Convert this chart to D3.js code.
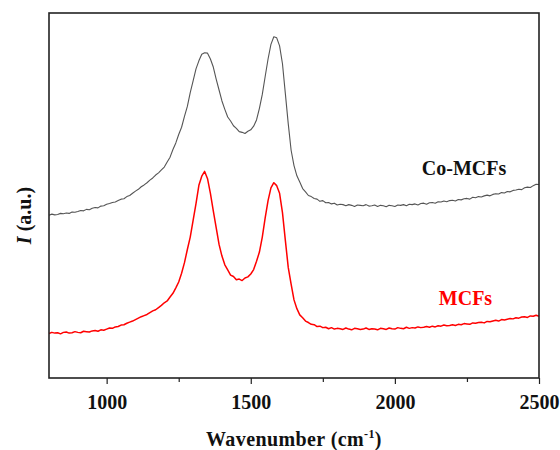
<!DOCTYPE html>
<html>
<head>
<meta charset="utf-8">
<script src="https://cdn.jsdelivr.net/npm/d3@7"></script>
<style>
  body { margin: 0; background: #fff; }
  svg text { font-family: "Times New Roman", "Liberation Serif", serif; font-weight: bold; }
</style>
</head>
<body>
<div id="chart"></div>
<script>
// Raman spectra, wavenumber grid 800..2500 cm-1 every 10 cm-1
const waveStart = 800, waveEnd = 2500, waveStep = 10;
const wavenumbers = d3.range(waveStart, waveEnd + 1, waveStep);

// Co-MCFs intensity (a.u.)
const coMcfs = [
  44.6, 44.9, 44.7, 44.8, 45.1, 45.0, 45.2, 45.1, 45.5, 45.4,
  45.6, 45.9, 45.8, 46.2, 46.1, 46.5, 46.7, 46.6, 47.1, 47.2,
  47.6, 47.8, 48.1, 48.2, 48.6, 49.0, 49.1, 49.7, 50.0, 50.6,
  51.2, 51.7, 52.4, 52.9, 53.5, 54.2, 54.8, 55.6, 56.2, 57.0,
  57.8,
  59.2, 60.5, 62.6, 64.4, 66.7, 68.7, 71.7, 74.4, 78.2, 81.4,
  84.7, 86.9, 88.7, 89.1, 89.0, 87.4, 85.2, 81.9, 78.9, 75.9,
  73.6, 71.5, 70.4, 69.1, 68.4, 67.5, 67.3, 67.0, 67.6, 68.0,
  69.0, 70.7, 73.9, 77.7, 82.6, 87.4, 91.4, 93.5, 93.2, 91.0,
  86.1, 77.9, 69.7, 62.4, 58.2, 55.4, 53.7, 51.9, 51.0,
  50.0, 49.7, 49.2, 49.0, 48.4, 48.6, 48.0, 48.1, 47.7, 47.9,
  47.4, 47.6, 47.5, 47.2, 47.5, 47.3, 47.0, 47.4, 47.3, 47.2,
  47.5, 47.1, 47.2, 47.4, 47.0, 47.3, 47.2, 46.9, 47.3, 47.2,
  47.0, 47.4, 47.3, 47.5, 47.2, 47.6, 47.5, 47.7, 47.4, 47.8,
  47.9, 47.6, 48.0, 48.1, 47.9, 48.3, 48.2, 48.5, 48.3, 48.6,
  48.7, 48.5, 48.9, 48.8, 49.1, 49.2, 49.0, 49.5, 49.4, 49.7,
  49.6, 49.9, 50.1, 49.9, 50.3, 50.5, 50.4, 50.8, 50.7, 51.1,
  51.0, 51.4, 51.5, 51.7, 51.6, 52.1, 52.3, 52.2, 52.7, 53.1,
  53.0
];

// MCFs intensity (a.u.)
const mcfs = [
  12.2, 12.5, 12.3, 12.4, 12.1, 12.5, 12.6, 12.3, 12.4, 12.7,
  12.5, 12.4, 12.8, 12.7, 12.6, 12.9, 13.0, 12.8, 13.2, 13.1,
  13.4, 13.7, 13.6, 14.0, 14.1, 14.5, 14.6, 15.0, 15.3, 15.6,
  16.0, 16.4, 16.8, 17.1, 17.4, 17.9, 18.4, 18.7, 19.3, 19.9,
  20.6,
  21.1, 22.2, 23.2, 24.7, 26.3, 28.7, 31.6, 35.2, 38.6, 43.2,
  47.8, 52.8, 55.3, 56.6, 54.6, 50.6, 45.8, 41.2, 36.6, 33.4,
  31.0, 29.6, 28.2, 27.8, 26.9, 27.1, 26.7, 27.4, 27.7, 28.5,
  29.7, 32.0, 34.5, 38.6, 43.9, 48.6, 52.1, 53.5, 52.7, 50.6,
  45.3, 37.7, 30.3, 25.7, 21.4, 19.0, 17.3, 16.5, 15.6,
  15.2, 14.7, 14.6, 14.1, 14.2, 13.8, 13.9, 13.5, 13.8, 13.4,
  13.6, 13.5, 13.3, 13.7, 13.4, 13.2, 13.6, 13.5, 13.3, 13.4,
  13.7, 13.3, 13.5, 13.4, 13.2, 13.6, 13.5, 13.3, 13.7, 13.5,
  13.4, 13.8, 13.6, 13.5, 13.9, 13.6, 13.8, 13.7, 14.0, 13.8,
  13.9, 14.1, 13.9, 14.2, 14.0, 14.3, 14.2, 14.5, 14.3, 14.4,
  14.6, 14.4, 14.7, 14.6, 14.9, 14.8, 14.7, 15.1, 15.0, 15.2,
  15.3, 15.1, 15.5, 15.4, 15.6, 15.8, 15.6, 16.0, 15.9, 16.1,
  16.3, 16.2, 16.5, 16.4, 16.7, 16.8, 16.6, 17.0, 16.9, 17.2,
  16.9
];

const majorTicks = [1000, 1500, 2000, 2500];
const minorTicks = [1250, 1750, 2250];

const seriesNames = ["Co-MCFs", "MCFs"];
const seriesColors = ["#555555", "#ff0000"];

const width = 560, height = 450;
const margin = { top: 13, right: 21, bottom: 72, left: 49 };
const innerW = width - margin.left - margin.right,
      innerH = height - margin.top - margin.bottom;

const svg = d3.select("#chart").append("svg")
    .attr("width", width)
    .attr("height", height);

const g = svg.append("g")
    .attr("transform", `translate(${margin.left},${margin.top})`);

const x = d3.scaleLinear().domain([waveStart, waveEnd]).range([0, innerW]);
const y = d3.scaleLinear().domain([0, 100]).range([innerH, 0]);

const line = d3.line()
    .x((d, i) => x(wavenumbers[i]))
    .y(d => y(d));

// spectra
const seriesData = [coMcfs, mcfs];
seriesData.forEach((s, i) => {
    g.append("path")
        .datum(s)
        .attr("fill", "none")
        .attr("stroke", seriesColors[i])
        .attr("stroke-width", i === 0 ? 1.1 : 1.5)
        .attr("stroke-linejoin", "round")
        .attr("d", line);
});

// labels beside the curves
g.append("text")
    .attr("x", x(2240)).attr("y", 162)
    .attr("text-anchor", "middle")
    .attr("font-size", 20)
    .attr("fill", "#111")
    .text(seriesNames[0]);

g.append("text")
    .attr("x", x(2245)).attr("y", 292)
    .attr("text-anchor", "middle")
    .attr("font-size", 20)
    .attr("fill", "#ff0000")
    .text(seriesNames[1]);

// x axis: major ticks with labels, minor ticks without
const xAxis = g.append("g")
    .attr("transform", `translate(0,${innerH})`)
    .call(d3.axisBottom(x).tickValues(majorTicks).tickSize(6).tickFormat(d3.format("d")));
xAxis.select(".domain").remove();
xAxis.selectAll(".tick line").attr("stroke", "#222").attr("stroke-width", 1.2);
xAxis.selectAll(".tick text")
    .attr("y", 31).attr("dy", 0)
    .attr("font-size", 20)
    .attr("fill", "#111");

const xMinor = g.append("g")
    .attr("transform", `translate(0,${innerH})`)
    .call(d3.axisBottom(x).tickValues(minorTicks).tickSize(4).tickFormat(""));
xMinor.select(".domain").remove();
xMinor.selectAll(".tick line").attr("stroke", "#222").attr("stroke-width", 1.2);

// frame
g.append("rect")
    .attr("x", 0).attr("y", 0)
    .attr("width", innerW).attr("height", innerH)
    .attr("fill", "none")
    .attr("stroke", "#222")
    .attr("stroke-width", 1.6);

// axis titles
const xTitle = svg.append("text")
    .attr("x", margin.left + innerW / 2)
    .attr("y", 446)
    .attr("text-anchor", "middle")
    .attr("font-size", 20)
    .attr("letter-spacing", 0.4)
    .attr("fill", "#111");
xTitle.append("tspan").text("Wavenumber (cm");
xTitle.append("tspan").attr("dy", -8).attr("font-size", 12).text("-1");
xTitle.append("tspan").attr("dy", 8).text(")");

const yTitle = svg.append("text")
    .attr("transform", `translate(31,${margin.top + innerH / 2 + 20}) rotate(-90)`)
    .attr("text-anchor", "middle")
    .attr("font-size", 20)
    .attr("fill", "#111");
yTitle.append("tspan").attr("font-style", "italic").text("I");
yTitle.append("tspan").text(" (a.u.)");
</script>
</body>
</html>
